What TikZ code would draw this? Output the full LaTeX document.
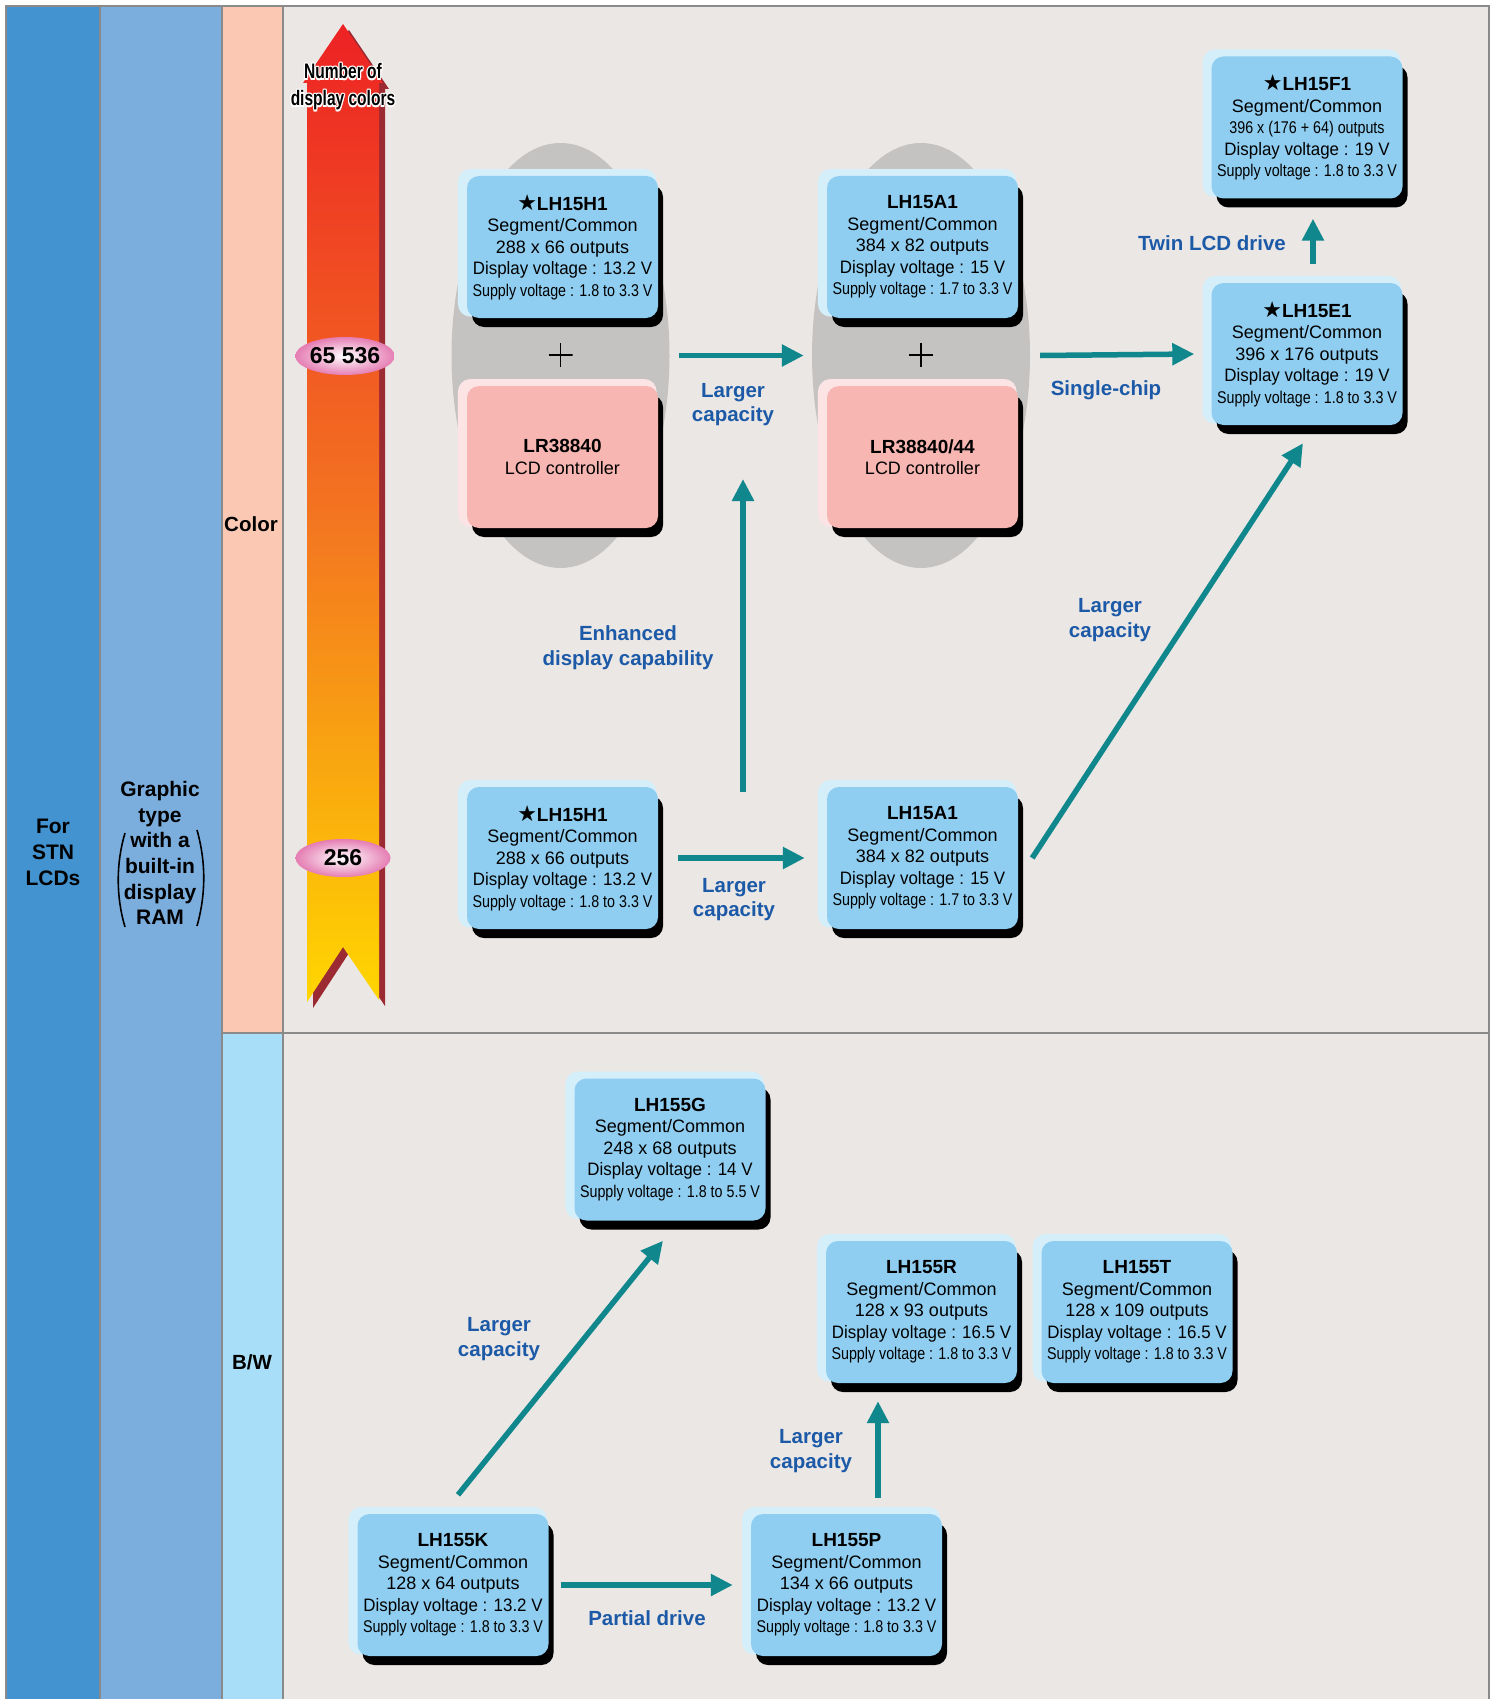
\documentclass[tikz,border=0pt]{standalone}
\usepackage{fontspec}
\setmainfont{Liberation Sans}
\newfontfamily\starfont{DejaVu Sans}
\usepackage{graphicx}
\usetikzlibrary{arrows.meta,shapes.geometric,shadows}

\definecolor{stnblue}{HTML}{4293CF}
\definecolor{ramblue}{HTML}{7BAEDD}
\definecolor{colorpeach}{HTML}{FBC9B3}
\definecolor{bwblue}{HTML}{A9DEF8}
\definecolor{panel}{HTML}{EBE7E4}
\definecolor{framegray}{HTML}{8A8A8A}
\definecolor{chipblue}{HTML}{8FCEF1}
\definecolor{chiprim}{HTML}{D4EEFA}
\definecolor{ctrlpink}{HTML}{F8B6B2}
\definecolor{ctrlrim}{HTML}{FDE4E4}
\definecolor{pairgray}{HTML}{C5C3C2}
\definecolor{flowteal}{HTML}{0F878C}
\definecolor{noteblue}{HTML}{1C5AA8}
\definecolor{barred}{HTML}{ED2224}
\definecolor{barorange}{HTML}{F37421}
\definecolor{baryellow}{HTML}{FFD600}
\definecolor{barshadow}{HTML}{9C2A32}
\definecolor{tagpink}{HTML}{E57DB3}

\newcommand{\blackstar}{{\starfont\fontsize{22}{21.5}\selectfont ★}}
\newcommand{\chiptitle}[1]{{\bfseries\fontsize{19}{21.5}\selectfont #1}}
\newcommand{\displine}[1]{\scalebox{0.94}[1]{#1}}
\newcommand{\supline}[1]{\scalebox{0.84}[1]{\fontsize{17}{21.5}\selectfont #1}}
\newcommand{\whitehalo}[1]{{\color{white}%
  \rlap{\kern-1.6pt#1}\rlap{\kern1.6pt#1}%
  \rlap{\raisebox{1.6pt}{#1}}\rlap{\raisebox{-1.6pt}{#1}}%
  \rlap{\kern-1.1pt\raisebox{1.1pt}{#1}}\rlap{\kern1.1pt\raisebox{1.1pt}{#1}}%
  \rlap{\kern-1.1pt\raisebox{-1.1pt}{#1}}\rlap{\kern1.1pt\raisebox{-1.1pt}{#1}}}#1}

\tikzset{
  frame/.style={framegray, line width=2pt},
  chipbase/.style 2 args={rectangle, rounded corners=12pt, minimum width=191pt,
    minimum height=142pt, inner sep=0pt, align=center, fill=#1,
    font=\fontsize{18}{21.5}\selectfont,
    general shadow={fill=#2, shadow scale=1.04, shadow xshift=-5pt, shadow yshift=4pt},
    general shadow={fill=black, shadow xshift=5pt, shadow yshift=-9pt}},
  chip/.style={chipbase={chipblue}{chiprim}},
  ctrl/.style={chipbase={ctrlpink}{ctrlrim}},
  pair/.style={ellipse, fill=pairgray, minimum width=218pt, minimum height=425pt, inner sep=0pt},
  plus/.style={minimum size=24pt, inner sep=0pt,
    path picture={\draw[line width=1.8pt]
      (path picture bounding box.north) -- (path picture bounding box.south)
      (path picture bounding box.west) -- (path picture bounding box.east);}},
  flow/.style={flowteal, line width=5.5pt, -{Triangle[length=22pt, width=21pt]}},
  note/.style={text=noteblue, align=center, font=\bfseries\fontsize{20.5}{24.5}\selectfont},
  side/.style={align=center, font=\bfseries\fontsize{21}{26}\selectfont},
  tag/.style={ellipse, inner color=white, outer color=tagpink, minimum width=95pt,
    minimum height=38pt, inner sep=0pt, font=\bfseries\fontsize{23}{23}\selectfont}
}

\begin{document}
\begin{tikzpicture}[x=1pt, y=-1pt]
\useasboundingbox (0,0) rectangle (1497,1699);
\fill[white] (0,0) rectangle (1497,1699);

% columns and panels
\fill[stnblue] (6,6) rectangle (100,1699);
\fill[ramblue] (100,6) rectangle (222,1699);
\fill[colorpeach] (222,6) rectangle (283,1033);
\fill[bwblue] (222,1033) rectangle (283,1699);
\fill[panel] (283,6) rectangle (1489,1699);
\draw[frame] (6,1699) -- (6,6) -- (1489,6) -- (1489,1699);
\draw[frame] (100,6) -- (100,1699) (222,6) -- (222,1699) (283,6) -- (283,1699);
\draw[frame] (222,1033) -- (1489,1033);

\node[side] (stn) at (53,852) {For\\STN\\LCDs};
\node[side, font=\bfseries\fontsize{21}{25.7}\selectfont] (ram) at (160,853)
  {Graphic\\type\\with a\\built-in\\display\\RAM};
\draw[line width=1.6pt] (125,833) .. controls (116,863) and (116,897) .. (125,927);
\draw[line width=1.6pt] (197,830) .. controls (206,862) and (206,894) .. (197,926);
\node[side, font=\bfseries\fontsize{20.5}{24}\selectfont] (color) at (251,524) {Color};
\node[side, font=\bfseries\fontsize{20.5}{24}\selectfont] (bw) at (252,1362) {B/W};

% colour scale
\fill[barshadow, shift={(6,6)}] (343,24) -- (383,83) -- (379,83) -- (379,1000)
  -- (343,947) -- (307,1002) -- (307,83) -- (303,83) -- cycle;
\path[top color=barred, bottom color=baryellow, middle color=barorange]
  (343,24) -- (383,83) -- (379,83) -- (379,1000)
  -- (343,947) -- (307,1002) -- (307,83) -- (303,83) -- cycle;
\node[align=center, font=\bfseries\fontsize{21}{27}\selectfont] (scale) at (343,87)
  {\scalebox{0.74}[1]{\whitehalo{Number of}}\\ \scalebox{0.74}[1]{\whitehalo{display colors}}};
\node[tag] (tag65k) at (345,356) {65 536};
\node[tag] (tag256) at (343,858) {256};

% color, chip + controller
\node[pair] (pairH) at (560.5,355.5) {};
\node[pair] (pairA) at (921,355.5) {};

\node[chip] (h1top) at (562.5,247) {\chiptitle{\blackstar LH15H1}\\ Segment/Common\\
  288 x 66 outputs\\ \displine{Display voltage : 13.2 V}\\ \supline{Supply voltage : 1.8 to 3.3 V}};
\node[plus] (plusH) at (560.5,355) {};
\node[ctrl] (lr40) at (562.5,457) {\chiptitle{LR38840}\\ LCD controller};

\node[chip] (a1top) at (922.5,247) {\chiptitle{LH15A1}\\ Segment/Common\\
  384 x 82 outputs\\ \displine{Display voltage : 15 V}\\ \supline{Supply voltage : 1.7 to 3.3 V}};
\node[plus] (plusA) at (921,355) {};
\node[ctrl] (lr44) at (922.5,457) {\chiptitle{LR38840/44}\\ LCD controller};

\node[chip] (f1) at (1307,127.5) {\chiptitle{\blackstar LH15F1}\\ Segment/Common\\
  \supline{396 x (176 + 64) outputs}\\ \displine{Display voltage : 19 V}\\ \supline{Supply voltage : 1.8 to 3.3 V}};
\node[chip] (e1) at (1307,354) {\chiptitle{\blackstar LH15E1}\\ Segment/Common\\
  396 x 176 outputs\\ \displine{Display voltage : 19 V}\\ \supline{Supply voltage : 1.8 to 3.3 V}};

% color, built-in controller
\node[chip] (h1bot) at (562.5,858) {\chiptitle{\blackstar LH15H1}\\ Segment/Common\\
  288 x 66 outputs\\ \displine{Display voltage : 13.2 V}\\ \supline{Supply voltage : 1.8 to 3.3 V}};
\node[chip] (a1bot) at (922.5,858) {\chiptitle{LH15A1}\\ Segment/Common\\
  384 x 82 outputs\\ \displine{Display voltage : 15 V}\\ \supline{Supply voltage : 1.7 to 3.3 V}};

% B/W
\node[chip] (g) at (670,1149.5) {\chiptitle{LH155G}\\ Segment/Common\\
  248 x 68 outputs\\ \displine{Display voltage : 14 V}\\ \supline{Supply voltage : 1.8 to 5.5 V}};
\node[chip] (r) at (921.5,1312) {\chiptitle{LH155R}\\ Segment/Common\\
  128 x 93 outputs\\ \displine{Display voltage : 16.5 V}\\ \supline{Supply voltage : 1.8 to 3.3 V}};
\node[chip] (t) at (1137,1312) {\chiptitle{LH155T}\\ Segment/Common\\
  128 x 109 outputs\\ \displine{Display voltage : 16.5 V}\\ \supline{Supply voltage : 1.8 to 3.3 V}};
\node[chip] (k) at (453,1585) {\chiptitle{LH155K}\\ Segment/Common\\
  128 x 64 outputs\\ \displine{Display voltage : 13.2 V}\\ \supline{Supply voltage : 1.8 to 3.3 V}};
\node[chip] (p) at (846.5,1585) {\chiptitle{LH155P}\\ Segment/Common\\
  134 x 66 outputs\\ \displine{Display voltage : 13.2 V}\\ \supline{Supply voltage : 1.8 to 3.3 V}};

% arrows
\coordinate (enhFrom) at (743,792);
\coordinate (enhTo) at (743,479);
\draw[flow] ([xshift=9pt]pairH.east) -- ([xshift=-8pt]pairA.west);
\draw[flow] ([xshift=10pt]pairA.east) -- ([xshift=-17pt]e1.west);
\draw[flow] ([shift={(6,-19)}]e1.north) -- ([shift={(6,20)}]f1.south);
\draw[flow] (enhFrom) -- (enhTo);
\draw[flow] ([xshift=20pt]h1bot.east) -- ([xshift=-22pt]a1bot.west);
\draw[flow] ([xshift=14pt]a1bot.east) -- ([shift={(-4,18)}]e1.south);
\draw[flow] ([shift={(5,-19)}]k.north) -- ([shift={(-7,20)}]g.south);
\draw[flow] ([xshift=12pt]k.east) -- ([xshift=-18pt]p.west);
\draw[flow] ([shift={(31.5,-16)}]p.north) -- ([shift={(-43.5,18)}]r.south);

\node[note] (capA) at (733,404.5) {Larger\\capacity};
\node[note] (single) at (1106,390) {Single-chip};
\node[note] (twin) at (1212,243) {Twin LCD drive};
\node[note] (enh) at (628,647.5) {Enhanced\\display capability};
\node[note] (capB) at (734,899.5) {Larger\\capacity};
\node[note] (capC) at (1110,620) {Larger\\capacity};
\node[note] (capG) at (499,1339) {Larger\\capacity};
\node[note] (partial) at (647,1618) {Partial drive};
\node[note] (capR) at (811,1451) {Larger\\capacity};

\end{tikzpicture}
\end{document}
